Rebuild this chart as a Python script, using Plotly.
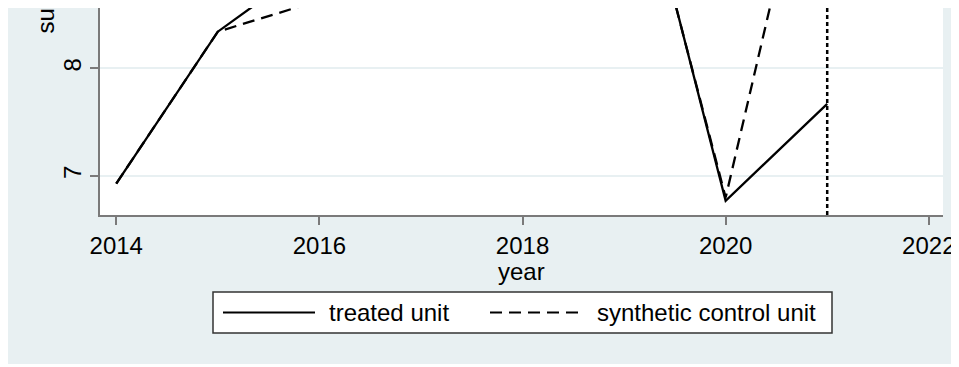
import plotly.graph_objects as go

# ---- data (2016-2019 run off the top of the visible area) ----
years = [2014, 2015, 2016, 2017, 2018, 2019, 2020, 2021]
treated = [6.93, 8.34, 9.02, 9.60, 10.10, 10.46, 6.77, 7.67]
synthetic = [6.93, 8.34, 8.63, 9.30, 9.90, 10.42, 6.80, 10.85]
treatment_year = 2021
x_ticks = [2014, 2016, 2018, 2020, 2022]
y_ticks = [7, 8]
series_names = ["treated unit", "synthetic control unit"]
x_title = "year"
y_title_visible = "su"

BG = "#e8f0f2"
AX = "#7a7a7a"
FONT = "Liberation Sans, Arial, sans-serif"

# The page has an 8px body margin; figure coordinates = page coordinates - 8.
OFF = 8
W, H = 959, 356
L, T = 100 - OFF, 0
R = W - (943 - OFF)
B = H - (215 - OFF)
PW, PH = W - L - R, H - T - B


def px(xp):  # page x -> paper
    return (xp - OFF - L) / PW


def py(yp):  # page y -> paper
    return (H - B - (yp - OFF)) / PH


fig = go.Figure()
fig.add_trace(go.Scatter(x=years, y=treated, mode="lines", name=series_names[0],
                         line=dict(color="black", width=2.3), showlegend=False))
fig.add_trace(go.Scatter(x=years, y=synthetic, mode="lines", name=series_names[1],
                         line=dict(color="black", width=2.3, dash="12px,7px"), showlegend=False))

shapes = [
    # treatment year reference line
    dict(type="line", xref="x", yref="paper", x0=treatment_year, x1=treatment_year, y0=0, y1=1,
         line=dict(color="black", width=2.5, dash="4px,3px")),
    # legend box
    dict(type="rect", xref="paper", yref="paper", x0=px(213), x1=px(832), y0=py(333), y1=py(292),
         fillcolor="white", line=dict(color="#333333", width=1.5)),
    dict(type="line", xref="paper", yref="paper", x0=px(223), x1=px(315), y0=py(312.5), y1=py(312.5),
         line=dict(color="black", width=2)),
    dict(type="line", xref="paper", yref="paper", x0=px(490), x1=px(582), y0=py(312.5), y1=py(312.5),
         line=dict(color="black", width=2, dash="12px,7px")),
]

annotations = [
    dict(text=series_names[0], xref="paper", yref="paper", x=px(327), y=py(312.5),
         xanchor="left", yanchor="middle", showarrow=False, font=dict(size=24, color="black", family=FONT)),
    dict(text=series_names[1], xref="paper", yref="paper", x=px(595), y=py(312.5),
         xanchor="left", yanchor="middle", showarrow=False, font=dict(size=24, color="black", family=FONT)),
    dict(text=y_title_visible, xref="paper", yref="paper", x=px(45), y=py(35),
         xanchor="center", yanchor="bottom", textangle=-90, showarrow=False, borderpad=0,
         font=dict(size=24, color="black", family=FONT)),
    dict(text=x_title, xref="paper", yref="paper", x=0.5, y=py(271),
         xanchor="center", yanchor="middle", showarrow=False, borderpad=0,
         font=dict(size=24, color="black", family=FONT)),
]

fig.update_layout(
    width=W, height=H,
    margin=dict(l=L, r=R, t=T, b=B, pad=0),
    paper_bgcolor=BG, plot_bgcolor="white",
    font=dict(family=FONT, size=24, color="black"),
    shapes=shapes, annotations=annotations, showlegend=False,
    xaxis=dict(range=[2013.84, 2022.14], tickvals=x_ticks, ticks="outside", ticklen=8,
               tickwidth=1.5, tickcolor=AX, showline=True, linecolor=AX, linewidth=1.5,
               showgrid=False, zeroline=False, tickfont=dict(size=24)),
    yaxis=dict(range=[6.638, 8.560], tickvals=y_ticks, ticks="outside", ticklen=8,
               tickwidth=1.5, tickcolor=AX, showline=True, linecolor=AX, linewidth=1.5,
               showgrid=True, gridcolor=BG, gridwidth=1.5, zeroline=False, tickangle=-90,
               tickfont=dict(size=24)),
)

fig.write_html("out.html")
